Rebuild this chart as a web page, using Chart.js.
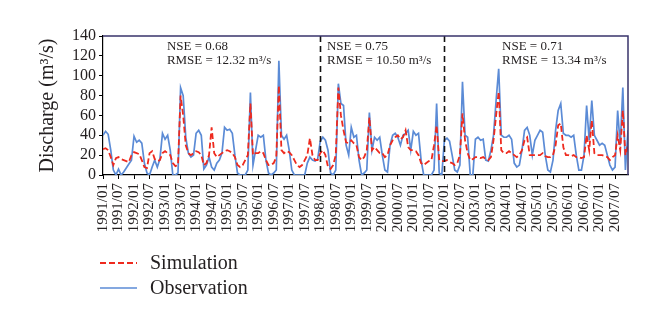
<!DOCTYPE html>
<html>
<head>
<meta charset="utf-8">
<script src="https://cdn.jsdelivr.net/npm/chart.js@4/dist/chart.umd.min.js"></script>
<style>
html, body { margin: 0; padding: 0; background: #fff; }
#wrap { width: 660px; height: 327px; position: relative; }
</style>
</head>
<body>
<div id="wrap"><canvas id="discharge"></canvas></div>
<script>
// monthly discharge (m3/s), 1991/01 .. 2007/12
const observation = [
    40, 44, 41, 25, 5, 0, 6, 0, 3, 7, 11, 15,          // 1991
    39, 33, 35, 32, 12, 2, 0, 8, 15, 8, 16, 42,        // 1992
    36, 40, 25, 0, 0, 2, 88, 80, 38, 22, 18, 20,       // 1993
    42, 45, 40, 6, 10, 18, 8, 5, 12, 15, 22, 48,       // 1994
    45, 46, 42, 20, 2, 0, 0, 0, 5, 83, 10, 25,         // 1995
    40, 38, 40, 15, 2, 0, 2, 5, 115, 40, 36, 40,       // 1996
    25, 5, 0, 0, 0, 0, 0, 12, 18, 15, 14, 16,          // 1997
    34, 38, 35, 25, 2, 0, 5, 92, 72, 70, 30, 20,       // 1998
    48, 38, 40, 15, 0, 2, 5, 63, 25, 38, 35, 38,       // 1999
    20, 5, 3, 30, 40, 42, 38, 30, 40, 42, 45, 25,      // 2000
    44, 40, 42, 15, 0, 0, 0, 0, 5, 72, 2, 0,           // 2001
    35, 37, 34, 20, 5, 3, 10, 94, 40, 38, 0, 0,        // 2002
    36, 38, 35, 36, 15, 14, 25, 40, 75, 107, 40, 38,   // 2003
    38, 40, 36, 12, 8, 10, 25, 45, 48, 40, 20, 35,     // 2004
    40, 45, 43, 20, 5, 3, 15, 45, 65, 72, 42, 40,      // 2005
    40, 38, 40, 20, 5, 5, 20, 70, 35, 75, 40, 35,      // 2006
    30, 32, 30, 20, 10, 5, 8, 65, 30, 88, 5, 45        // 2007
];
const simulation = [
    26, 27, 25, 18, 10, 17, 18, 16, 15, 14, 13, 20,
    23, 22, 21, 15, 8, 7, 22, 24, 16, 14, 15, 22,
    24, 22, 20, 12, 9, 10, 80, 60, 30, 22, 20, 22,
    24, 23, 20, 10, 12, 20, 48, 22, 18, 20, 22, 24,
    25, 24, 22, 18, 10, 8, 10, 15, 20, 72, 20, 22,
    22, 24, 22, 15, 10, 10, 12, 18, 90, 25, 22, 24,
    23, 20, 15, 10, 8, 10, 15, 20, 37, 20, 15, 15,
    22, 25, 20, 8, 6, 10, 20, 88, 60, 45, 33, 32,
    35, 32, 30, 18, 15, 18, 25, 58, 25, 28, 25, 22,
    22, 18, 20, 30, 35, 38, 40, 36, 38, 45, 28, 25,
    25, 24, 20, 12, 10, 12, 14, 15, 30, 50, 15, 14,
    14, 15, 13, 12, 10, 12, 20, 62, 35, 22, 15, 16,
    18, 18, 17, 18, 16, 15, 18, 35, 60, 84, 25, 22,
    22, 24, 22, 20, 18, 20, 25, 35, 38, 20, 20, 20,
    20, 20, 22, 19, 18, 18, 20, 30, 50, 52, 28, 20,
    20, 19, 20, 18, 18, 17, 18, 40, 25, 55, 22, 20,
    20, 20, 19, 18, 15, 18, 20, 40, 25, 65, 20, 30
];
const tickLabels = [
    "1991/01", "1991/07", "1992/01", "1992/07", "1993/01", "1993/07",
    "1994/01", "1994/07", "1995/01", "1995/07", "1996/01", "1996/07",
    "1997/01", "1997/07", "1998/01", "1998/07", "1999/01", "1999/07",
    "2000/01", "2000/07", "2001/01", "2001/07", "2002/01", "2002/07",
    "2003/01", "2003/07", "2004/01", "2004/07", "2005/01", "2005/07",
    "2006/01", "2006/07", "2007/01", "2007/07"
];
// period boundaries (month index) and statistics per period
const splitMonths = [84, 132];
const statMonths = [24.7, 86.6, 154.3];
const nseValues = ["0.68", "0.75", "0.71"];
const rmseValues = ["12.32", "10.50", "13.34"];

const serif = "'Liberation Serif', 'Times New Roman', serif";

const overlay = {
    id: "overlay",
    afterDatasetsDraw(chart) {
        const { ctx, chartArea: a, scales: { x } } = chart;
        ctx.save();
        ctx.strokeStyle = "#111";
        ctx.lineWidth = 1.6;
        ctx.setLineDash([6, 4]);
        splitMonths.forEach(m => {
            const px = Math.round(x.getPixelForValue(m)) + 0.5;
            ctx.beginPath();
            ctx.moveTo(px, a.top);
            ctx.lineTo(px, a.bottom);
            ctx.stroke();
        });
        ctx.setLineDash([]);
        ctx.strokeStyle = "#38336b";
        ctx.lineWidth = 1.5;
        ctx.beginPath();
        ctx.moveTo(a.left, a.top);
        ctx.lineTo(a.right, a.top);
        ctx.lineTo(a.right, a.bottom);
        ctx.stroke();

        ctx.fillStyle = "#231f20";
        ctx.font = "13px " + serif;
        ctx.textAlign = "left";
        ctx.textBaseline = "alphabetic";
        statMonths.forEach((m, k) => {
            const px = x.getPixelForValue(m);
            ctx.fillText("NSE = " + nseValues[k], px, a.top + 14);
            ctx.fillText("RMSE = " + rmseValues[k] + " m\u00b3/s", px, a.top + 27.5);
        });
        ctx.restore();
    },
    afterDraw(chart) {
        const { ctx } = chart;
        ctx.save();
        ctx.font = "20px " + serif;
        ctx.textBaseline = "middle";
        ctx.fillStyle = "#231f20";
        chart.data.datasets.forEach((ds, k) => {
            const y = 263 + k * 25;
            ctx.strokeStyle = ds.borderColor;
            ctx.lineWidth = ds.borderWidth;
            ctx.setLineDash(ds.borderDash || []);
            ctx.beginPath();
            ctx.moveTo(100, y);
            ctx.lineTo(137, y);
            ctx.stroke();
            ctx.setLineDash([]);
            ctx.fillText(ds.label, 150, y + 1);
        });
        ctx.restore();
    }
};

new Chart(document.getElementById("discharge"), {
    type: "line",
    data: {
        datasets: [
            {
                label: "Simulation",
                data: simulation.map((v, i) => ({ x: i, y: v })),
                borderColor: "#ee2a1e",
                borderWidth: 1.8,
                borderDash: [6, 3],
                pointRadius: 0,
                fill: false
            },
            {
                label: "Observation",
                data: observation.map((v, i) => ({ x: i, y: v })),
                borderColor: "#5b8bd6",
                borderWidth: 1.7,
                pointRadius: 0,
                fill: false
            }
        ]
    },
    options: {
        responsive: true,
        maintainAspectRatio: false,
        animation: false,
        devicePixelRatio: 1,
        layout: { padding: { left: 0, right: 32, top: 36, bottom: 87 } },
        plugins: { legend: { display: false }, tooltip: { enabled: false } },
        scales: {
            x: {
                type: "linear",
                min: 0,
                max: observation.length - 1,
                afterFit(scale) { scale.height = 65; },
                grid: { drawOnChartArea: false, drawTicks: true, tickLength: 4, color: "#000" },
                border: { color: "#000", width: 1.2 },
                ticks: {
                    stepSize: 6,
                    includeBounds: false,
                    autoSkip: false,
                    maxRotation: 90,
                    minRotation: 90,
                    padding: 4,
                    color: "#231f20",
                    font: { family: serif, size: 15 },
                    callback: v => tickLabels[v / 6]
                }
            },
            y: {
                min: 0,
                max: 140,
                afterFit(scale) { scale.width = 103; },
                grid: { drawOnChartArea: false, drawTicks: true, tickLength: 4, color: "#000" },
                border: { color: "#000", width: 1.2 },
                ticks: {
                    stepSize: 20,
                    autoSkip: false,
                    padding: 3,
                    color: "#231f20",
                    font: { family: serif, size: 16 }
                },
                title: {
                    display: true,
                    text: "Discharge (m\u00b3/s)",
                    color: "#231f20",
                    font: { family: serif, size: 20 },
                    padding: { top: 36, bottom: 0 }
                }
            }
        }
    },
    plugins: [overlay]
});
</script>
</body>
</html>
